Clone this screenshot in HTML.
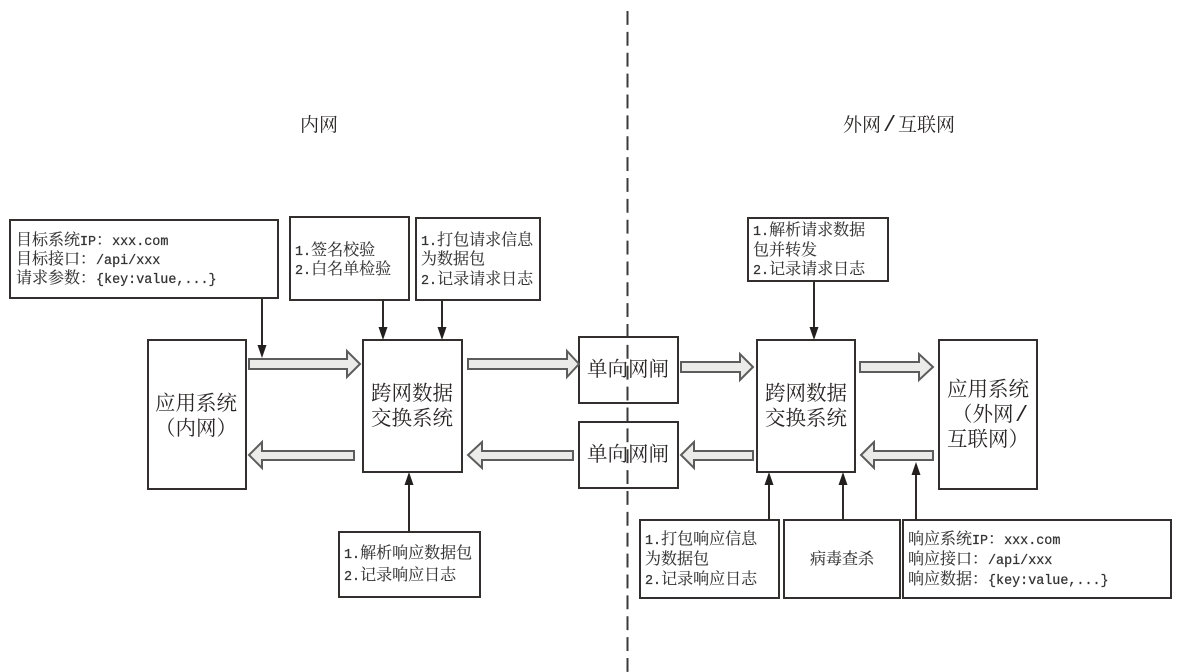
<!DOCTYPE html>
<html><head><meta charset="utf-8"><style>
html,body{margin:0;padding:0;background:#fff;width:1182px;height:672px;overflow:hidden}
svg{display:block;filter:blur(0.35px)}
text{font-family:"Liberation Serif","Noto Serif CJK SC",serif;fill:#2a2626}
.s{font-size:16px;fill:#333;stroke:#333;stroke-width:.12}
.m{font-size:19px}
.l{font-size:20.5px}
tspan.c{font-family:"Liberation Mono",monospace;font-size:13.4px;stroke:#333;stroke-width:.25}
tspan.t{font-family:"Liberation Mono",monospace;font-size:22px}
rect.b{fill:none;stroke:#332f2f;stroke-width:2}
path.a{fill:#ebebe9;stroke:#5c5c5c;stroke-width:2}
path.v{fill:none;stroke:#2e2a2a;stroke-width:2}
path.h{fill:#231f1f}
</style></head><body>
<svg xmlns="http://www.w3.org/2000/svg" width="1182" height="672" viewBox="0 0 1182 672">
<path d="M627.500 11V672" stroke="#3a3a3a" stroke-width="2" stroke-dasharray="13.87 7" fill="none"/>
<text class="m" x="300" y="131">内网</text>
<text class="m" y="131"><tspan x="843">外网</tspan><tspan class="t" x="883">/</tspan><tspan x="898">互联网</tspan></text>

<rect class="b" x="10" y="220" width="268" height="78"/>
<text class="s" x="16" y="245">目标系统<tspan class="c">IP</tspan>：<tspan class="c">xxx.com</tspan></text>
<text class="s" x="16" y="264">目标接口：<tspan class="c">/api/xxx</tspan></text>
<text class="s" x="16" y="283">请求参数：<tspan class="c">{key:value,...}</tspan></text>

<rect class="b" x="290" y="217" width="119" height="83"/>
<text class="s" x="295" y="255"><tspan class="c">1.</tspan>签名校验</text>
<text class="s" x="295" y="274"><tspan class="c">2.</tspan>白名单检验</text>

<rect class="b" x="416" y="218" width="124" height="82"/>
<text class="s" x="421" y="245"><tspan class="c">1.</tspan>打包请求信息</text>
<text class="s" x="421" y="264">为数据包</text>
<text class="s" x="421" y="284"><tspan class="c">2.</tspan>记录请求日志</text>

<rect class="b" x="748" y="218" width="140" height="63"/>
<text class="s" x="753" y="235"><tspan class="c">1.</tspan>解析请求数据</text>
<text class="s" x="753" y="255">包并转发</text>
<text class="s" x="753" y="274"><tspan class="c">2.</tspan>记录请求日志</text>

<rect class="b" x="148" y="340" width="98" height="149"/>
<text class="l" x="155" y="410">应用系统</text>
<text class="l" x="155" y="435">（内网）</text>

<rect class="b" x="363" y="340" width="99" height="132"/>
<text class="l" x="371" y="400">跨网数据</text>
<text class="l" x="371" y="425">交换系统</text>

<rect class="b" x="579" y="337" width="99" height="66"/>
<text class="l" x="587" y="376">单向网闸</text>
<rect class="b" x="579" y="422" width="99" height="66"/>
<text class="l" x="587" y="461">单向网闸</text>

<rect class="b" x="757" y="340" width="98" height="132"/>
<text class="l" x="765" y="400">跨网数据</text>
<text class="l" x="765" y="425">交换系统</text>

<rect class="b" x="939" y="340" width="98" height="149"/>
<text class="l" x="947" y="396">应用系统</text>
<text class="l" y="421"><tspan x="952">（外网</tspan><tspan class="t" x="1015">/</tspan></text>
<text class="l" x="947" y="446">互联网）</text>

<rect class="b" x="339" y="532" width="141" height="65"/>
<text class="s" x="344" y="558"><tspan class="c">1.</tspan>解析响应数据包</text>
<text class="s" x="344" y="580"><tspan class="c">2.</tspan>记录响应日志</text>

<rect class="b" x="640" y="520" width="139" height="78"/>
<text class="s" x="645" y="544"><tspan class="c">1.</tspan>打包响应信息</text>
<text class="s" x="645" y="564">为数据包</text>
<text class="s" x="645" y="584"><tspan class="c">2.</tspan>记录响应日志</text>

<rect class="b" x="784" y="520" width="116" height="78"/>
<text class="s" x="810" y="564">病毒查杀</text>

<rect class="b" x="903" y="520" width="268" height="78"/>
<text class="s" x="908" y="544">响应系统<tspan class="c">IP</tspan>：<tspan class="c">xxx.com</tspan></text>
<text class="s" x="908" y="564">响应接口：<tspan class="c">/api/xxx</tspan></text>
<text class="s" x="908" y="584">响应数据：<tspan class="c">{key:value,...}</tspan></text>

<path class="a" d="M249 359H347V351L360 364L347 377V369H249Z"/>
<path class="a" d="M468 359H567V351L579 364L567 377V369H468Z"/>
<path class="a" d="M681 362H740V354L753 367L740 380V372H681Z"/>
<path class="a" d="M860 362H919V354L933 367L919 380V372H860Z"/>
<path class="a" d="M354 451H262V442L249 455L262 468V460H354Z"/>
<path class="a" d="M573 451H482V442L468 455L482 468V460H573Z"/>
<path class="a" d="M753 451H694V442L681 455L694 468V460H753Z"/>
<path class="a" d="M933 451H874V442L861 455L874 468V460H933Z"/>

<path class="v" d="M262 298V346M383 300V328M442 300V328M814 281V328M409 532V484M769 520V484M843 520V484M916 520V472"/>
<path class="h" d="M257.500 345H266.500L262 358ZM378.500 327H387.500L383 340ZM437.500 327H446.500L442 340ZM809.500 327H818.500L814 340ZM404.500 485H413.500L409 472ZM764.500 485H773.500L769 472ZM838.500 485H847.500L843 472ZM911.500 475H920.500L916 462Z"/>
</svg>
</body></html>
